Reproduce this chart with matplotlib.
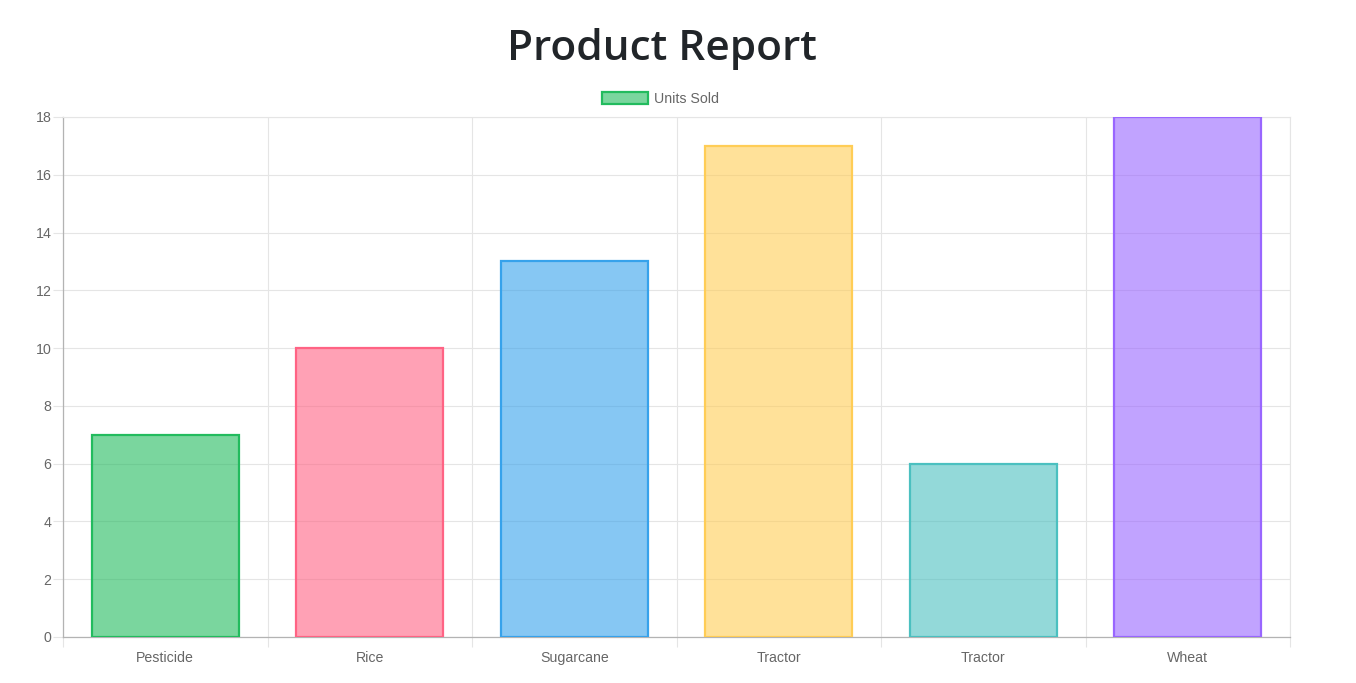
import matplotlib
matplotlib.use("Agg")
from matplotlib import pyplot as plt
from matplotlib.patches import Patch

products = ["Pesticide", "Rice", "Sugarcane", "Tractor", "Tractor", "Wheat"]
units_sold = [7, 10, 13, 17, 6, 18]
bar_colors = [(34, 187, 94), (255, 99, 132), (54, 162, 235),
              (255, 205, 86), (75, 192, 192), (153, 102, 255)]
y_ticks = [0, 2, 4, 6, 8, 10, 12, 14, 16, 18]

W, H = 1356, 683
fig = plt.figure(figsize=(W / 100, H / 100), dpi=100)
ax = fig.add_axes([63 / W, (H - 637) / H, (1290 - 63) / W, (637 - 117) / H])

rgb = [tuple(c / 255 for c in col) for col in bar_colors]
fills = [(r, g, b, 0.6) for r, g, b in rgb]
pos = list(range(len(products)))
ax.bar(pos, units_sold, width=0.72, color=fills, edgecolor=rgb, linewidth=1.6, zorder=3)

ax.set_xlim(-0.5, len(products) - 0.5)
ax.set_ylim(0, 18)

grid_c = "#e5e5e5"
label_c = "#666666"
tick_font = {"family": ["Liberation Sans", "DejaVu Sans"], "size": 10.2}

# category labels at centres, grid lines at boundaries
ax.set_xticks(pos)
ax.set_xticklabels(products, fontdict=tick_font, color=label_c)
ax.tick_params(axis="x", which="major", length=0, pad=10)
ax.set_xticks([p - 0.5 for p in pos] + [len(pos) - 0.5], minor=True)
ax.tick_params(axis="x", which="minor", length=7.2, width=0.8, color=grid_c)
ax.grid(True, axis="x", which="minor", color=grid_c, linewidth=0.8, zorder=0)

ax.set_yticks(y_ticks)
ax.set_yticklabels([str(v) for v in y_ticks], fontdict=tick_font, color=label_c)
ax.tick_params(axis="y", length=7.2, width=0.8, color=grid_c, pad=1)
ax.grid(True, axis="y", color=grid_c, linewidth=0.8, zorder=0)

for side in ["top", "right"]:
    ax.spines[side].set_color(grid_c)
    ax.spines[side].set_linewidth(0.8)
for side in ["left", "bottom"]:
    ax.spines[side].set_color("#b3b3b3")
    ax.spines[side].set_linewidth(0.9)

handle = Patch(facecolor=fills[0], edgecolor=rgb[0], linewidth=1.6)
ax.legend([handle], ["Units Sold"], loc="lower center", bbox_to_anchor=(0.487, 1.0),
          frameon=False, handlelength=3.2, handleheight=1.0, handletextpad=0.45,
          borderaxespad=0.38, prop={"family": ["Liberation Sans", "DejaVu Sans"], "size": 10.2},
          labelcolor=label_c)

fig.text(662 / W, 1 - 49 / H, "Product Report", ha="center", va="center",
         fontsize=30.5, fontweight="semibold", color="#212529",
         family=["Open Sans", "DejaVu Sans"])

fig.savefig("out.png", dpi=100)
